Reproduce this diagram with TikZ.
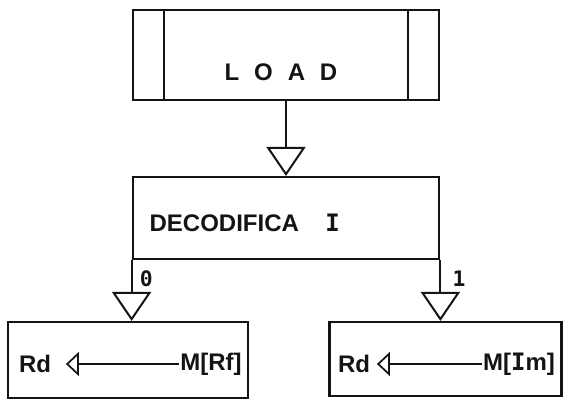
\documentclass[tikz,border=0pt]{standalone}
\usepackage{fontspec}
\setmainfont{Liberation Sans}
\newfontfamily\serifI{DejaVu Sans Mono}
\newfontfamily\spaced[LetterSpace=62]{Liberation Sans}
\usetikzlibrary{arrows.meta,positioning}
\definecolor{Ink}{HTML}{141414}
\tikzset{
  flow/.style={-{Triangle[open,length=21.75pt,width=29.25pt,line width=1.5pt]}, draw=Ink, line width=1.5pt},
  inflow/.style={-{Triangle[open,length=9.75pt,width=18pt,line width=1.3pt]}, draw=Ink, line width=1.1pt},
  block/.style={draw=Ink, line width=1.6pt, fill=white, inner sep=0pt},
  edge/.style={draw=Ink, line width=1.6pt},
  opname/.style={font=\bfseries\fontsize{18}{20}\selectfont, text=Ink, inner sep=1pt},
  tag/.style={font=\serifI\bfseries\fontsize{16}{18}\selectfont, text=Ink, inner sep=0pt},
}

\begin{document}
\begin{tikzpicture}[x=0.75pt,y=-0.75pt]
  \useasboundingbox (0,0) rectangle (564,402);

  % LOAD block, with the two inner bars
  \node[block, minimum width=230pt, minimum height=67.5pt] (load) at (286,55) {};
  \draw[edge] ([xshift=24pt]load.north west) -- ([xshift=24pt]load.south west);
  \draw[edge] ([xshift=-24pt]load.north east) -- ([xshift=-24pt]load.south east);
  \node[opname] (loadtext) at (281,72) {\spaced\bfseries LOAD};

  % decoding block
  \node[block, minimum width=230pt, minimum height=61.5pt] (decode) at (286,218) {};
  \node[opname, anchor=west] (decodetext) at (148,223)
    {DECODIFICA\hspace{1.1em}{\serifI\bfseries I}};

  % the two cases
  \node[block, minimum width=180pt, minimum height=57pt] (lbox) at (128,360) {};
  \node[block, minimum width=174pt, minimum height=55.5pt] (rbox) at (445.5,359) {};

  \node[opname] (rdleft) at (35,364) {Rd};
  \node[opname] (mrf) at (211,364) {M[Rf]};
  \node[opname] (rdright) at (354,364) {Rd};
  \node[opname] (mim) at (519,364) {M[{\serifI\bfseries I}m]};

  % flow between blocks
  \draw[flow] (load.south) -- (decode.north);
  \draw[flow] (decode.south west) -- (decode.south west |- lbox.north);
  \draw[flow] (decode.south east) -- (decode.south east |- rbox.north);
  \node[tag, anchor=west] (zero) at ([xshift=6pt,yshift=-14pt]decode.south west) {0};
  \node[tag, anchor=west] (one) at ([xshift=9pt,yshift=-14pt]decode.south east) {1};

  % transfers inside the cases
  \draw[inflow, shorten >=10pt] (mrf.west) -- (rdleft.east);
  \draw[inflow, shorten >=4pt] (mim.west) -- (rdright.east);
\end{tikzpicture}
\end{document}
